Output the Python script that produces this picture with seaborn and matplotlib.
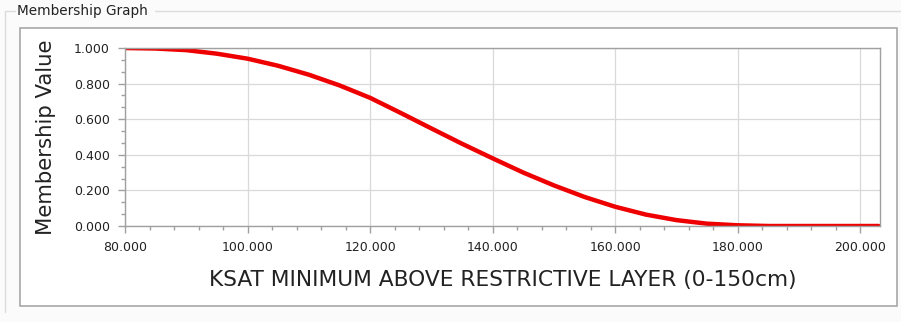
import numpy as np
import pandas as pd
import seaborn as sns
import matplotlib.pyplot as plt
from matplotlib.patches import Rectangle
from matplotlib.lines import Line2D
from matplotlib.ticker import MultipleLocator, AutoMinorLocator

# Curve (x in 5 unit steps)
ksat = [80, 85, 90, 95, 100, 105, 110, 115, 120, 125, 130, 135, 140, 145,
        150, 155, 160, 165, 170, 175, 180, 185, 190, 195, 200, 203]
membership = [1.0, 0.997, 0.988, 0.968, 0.94, 0.90, 0.85, 0.79, 0.72, 0.635,
              0.548, 0.462, 0.38, 0.30, 0.228, 0.163, 0.108, 0.064, 0.033,
              0.013, 0.004, 0.0, 0.0, 0.0, 0.0, 0.0]

df = pd.DataFrame({'ksat': ksat, 'membership': membership})

sns.set_theme(style='white')
plt.rcParams['font.family'] = ['DejaVu Sans']

W, H = 901, 322
fig = plt.figure(figsize=(W / 100, H / 100), dpi=100)
fig.patch.set_facecolor('#fbfbfb')

def px_rect(x0, y0, x1, y1, **kw):
    # rectangle given in pixel coords (top-left origin)
    return Rectangle((x0 / W, 1 - y1 / H), (x1 - x0) / W, (y1 - y0) / H,
                     transform=fig.transFigure, **kw)

# group box frame
fig.add_artist(Line2D([5 / W, 5 / W], [1 - 11 / H, 1 - 312 / H], transform=fig.transFigure,
                      color='#dcdcdc', lw=1, zorder=-2))
fig.add_artist(Line2D([5 / W, 15 / W], [1 - 11 / H, 1 - 11 / H], transform=fig.transFigure,
                      color='#dcdcdc', lw=1, zorder=-2))
fig.add_artist(Line2D([155 / W, 901 / W], [1 - 11 / H, 1 - 11 / H], transform=fig.transFigure,
                      color='#dcdcdc', lw=1, zorder=-2))
fig.text(17 / W, 1 - 11 / H, 'Membership Graph', fontsize=9.8, color='#222222',
         va='center', ha='left')

# inner white panel, kept behind the axes
fig.add_artist(px_rect(20, 28, 897, 306, facecolor='white', edgecolor='#a8a8a8', lw=1.2,
                       zorder=-1))

ax = fig.add_axes([125 / W, 1 - 226 / H, (880 - 125) / W, (226 - 48) / H])
ax.set_facecolor('white')

sns.lineplot(data=df, x='ksat', y='membership', color='#ee0000', linewidth=3.2, ax=ax)

ax.set_xlim(80, 203.2)
ax.set_ylim(0, 1)
ax.xaxis.set_major_locator(MultipleLocator(20))
ax.xaxis.set_minor_locator(AutoMinorLocator(5))
ax.yaxis.set_major_locator(MultipleLocator(0.2))
ax.yaxis.set_minor_locator(AutoMinorLocator(3))
ax.xaxis.set_major_formatter(lambda v, p: f'{v:.3f}')
ax.yaxis.set_major_formatter(lambda v, p: f'{v:.3f}')

ax.grid(True, which='major', color='#d9d9d9', lw=0.9)
for s in ax.spines.values():
    s.set_color('#a0a0a0')
    s.set_linewidth(1)
ax.tick_params(which='major', direction='out', length=5, width=1, color='#a0a0a0',
               labelsize=9, labelcolor='#222222', bottom=True, left=True, pad=6)
ax.tick_params(which='minor', direction='out', length=3, width=1, color='#a0a0a0',
               bottom=True, left=True)

ax.set_xlabel('KSAT MINIMUM ABOVE RESTRICTIVE LAYER (0-150cm)', fontsize=15.7,
              color='#222222', labelpad=11)
ax.set_ylabel('Membership Value', fontsize=15.3, color='#222222', labelpad=13)

fig.savefig('out.png', dpi=100, facecolor=fig.get_facecolor())
